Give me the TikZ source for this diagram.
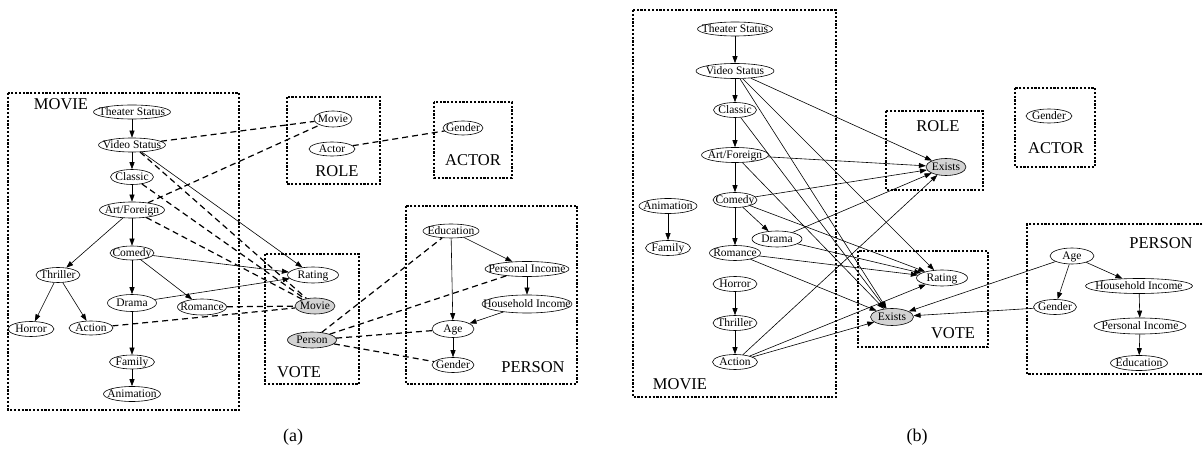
\documentclass[tikz,border=0pt]{standalone}
\usepackage{fontspec}
\setmainfont{Liberation Serif}
\usetikzlibrary{shapes.geometric,arrows.meta}
\definecolor{exgray}{RGB}{211,211,211}
% node text: zero-size box so the ellipse size comes from the style alone
\newcommand\nt[1]{\makebox[0pt]{\raisebox{-0.33em}[0pt][0pt]{#1}}}
\newcommand\nodefont{\fontsize{11.5}{13}\selectfont}
\begin{document}
\begin{tikzpicture}[x=1pt,y=-1pt,
  nd/.style 2 args={ellipse, draw, line width=0.6pt, inner sep=0pt,
    minimum width=#1pt, minimum height=#2pt, font=\nodefont},
  ndg/.style 2 args={nd={#1}{#2}, fill=exgray},
  ar/.style={-{Triangle[length=7pt,width=5pt]}, line width=0.6pt},
  dl/.style={line width=1.2pt, dash pattern=on 6pt off 4pt},
  plate/.style={line width=2.2pt, dash pattern=on 2.2pt off 1.6pt},
  platelabel/.style={font=\fontsize{16.5}{18}\selectfont, inner sep=0pt},
  caption/.style={font=\fontsize{18}{20}\selectfont, inner sep=0pt}]
\useasboundingbox (0,0) rectangle (1203,454);

% ================= (a) =================
% plates
\draw[plate] (8,93) rectangle (239,410);
\draw[plate] (287,97) rectangle (380,184);
\draw[plate] (434,102) rectangle (512,178);
\draw[plate] (265,254) rectangle (359,384);
\draw[plate] (406,206) rectangle (577,384);
\node[platelabel] (lma) at (61,104) {MOVIE};
\node[platelabel] (lro) at (337,171) {ROLE};
\node[platelabel] (lac) at (473,160) {ACTOR};
\node[platelabel] (lvo) at (299,372) {VOTE};
\node[platelabel] (lpe) at (533,367) {PERSON};

% MOVIE
\node[nd={77}{14}] (ts) at (132,112) {\nt{Theater Status}};
\node[nd={67}{14}] (vs) at (132,145) {\nt{Video Status}};
\node[nd={43}{15}] (cl) at (132,177) {\nt{Classic}};
\node[nd={65}{16}] (af) at (132,210) {\nt{Art/Foreign}};
\node[nd={44}{14}] (co) at (132,253) {\nt{Comedy}};
\node[nd={44}{15}] (th) at (58,275) {\nt{Thriller}};
\node[nd={49}{17}] (dr) at (132,303) {\nt{Drama}};
\node[nd={49}{16}] (ro) at (202,307) {\nt{Romance}};
\node[nd={46}{15}] (ho) at (31,329) {\nt{Horror}};
\node[nd={44}{14}] (ac) at (91,328) {\nt{Action}};
\node[nd={45}{14}] (fa) at (132,362) {\nt{Family}};
\node[nd={57}{15}] (an) at (132,394) {\nt{Animation}};
% ROLE
\node[nd={38}{16}] (rm) at (333,119) {\nt{Movie}};
\node[nd={46}{14}] (rac) at (332,149) {\nt{Actor}};
% ACTOR
\node[nd={40}{14}] (agd) at (463,128) {\nt{Gender}};
% VOTE
\node[nd={51}{16}] (vr) at (313,275) {\nt{Rating}};
\node[ndg={40}{16}] (vm) at (315,306) {\nt{Movie}};
\node[ndg={49}{16}] (vp) at (312,340) {\nt{Person}};
% PERSON
\node[nd={56}{14}] (ed) at (451,231) {\nt{Education}};
\node[nd={84}{15}] (pi) at (527,269) {\nt{Personal Income}};
\node[nd={90}{18}] (hi) at (527,304) {\nt{Household Income}};
\node[nd={42}{17}] (ag) at (453,329) {\nt{Age}};
\node[nd={42}{15}] (gp) at (453,365) {\nt{Gender}};

% directed edges
\draw[ar] (ts) -- (vs);
\draw[ar] (vs) -- (cl);
\draw[ar] (cl) -- (af);
\draw[ar] (af) -- (co);
\draw[ar] (af) -- (th);
\draw[ar] (co) -- (dr);
\draw[ar] (co) -- (ro);
\draw[ar] (th) -- (ho);
\draw[ar] (th) -- (ac);
\draw[ar] (dr) -- (fa);
\draw[ar] (fa) -- (an);
\draw[ar] (vs) -- (vr);
\draw[ar] (co) -- (vr);
\draw[ar] (dr) -- (vr);
\draw[ar] (ed) -- (pi);
\draw[ar] (ed) -- (ag);
\draw[ar] (pi) -- (hi);
\draw[ar] (hi) -- (ag);
\draw[ar] (ag) -- (gp);
% slot chains
\draw[dl] (vs) -- (rm);
\draw[dl] (af) -- (rm);
\draw[dl] (rac) -- (agd);
\draw[dl] (vs) -- (vm);
\draw[dl] (cl) -- (vm);
\draw[dl] (af) -- (vm);
\draw[dl] (ro) -- (vm);
\draw[dl] (ac) -- (vm);
\draw[dl] (vp) -- (ed);
\draw[dl] (vp) -- (pi);
\draw[dl] (vp) -- (ag);
\draw[dl] (vp) -- (gp);

\node[caption] (capa) at (293,437) {(a)};

% ================= (b) =================
\draw[plate] (633,10) rectangle (836,397);
\draw[plate] (886,111) rectangle (983,190);
\draw[plate] (1015,88) rectangle (1095,167);
\draw[plate] (858,251) rectangle (988,347);
\draw[plate] (1210,224) -- (1027,224) -- (1027,374) -- (1210,374);
\node[platelabel] (rma) at (680,384) {MOVIE};
\node[platelabel] (rro) at (938,126) {ROLE};
\node[platelabel] (rac2) at (1056,148) {ACTOR};
\node[platelabel] (rvo) at (953,333) {VOTE};
\node[platelabel] (rpe) at (1161,243) {PERSON};

% MOVIE
\node[nd={75}{14}] (ts2) at (735,29) {\nt{Theater Status}};
\node[nd={78}{15}] (vs2) at (735,71) {\nt{Video Status}};
\node[nd={43}{15}] (cl2) at (735,110) {\nt{Classic}};
\node[nd={67}{15}] (af2) at (735,155) {\nt{Art/Foreign}};
\node[nd={44}{15}] (co2) at (735,200) {\nt{Comedy}};
\node[nd={50}{16}] (dr2) at (777,239) {\nt{Drama}};
\node[nd={51}{15}] (ro2) at (735,253) {\nt{Romance}};
\node[nd={44}{15}] (ho2) at (735,284) {\nt{Horror}};
\node[nd={44}{15}] (th2) at (735,323) {\nt{Thriller}};
\node[nd={45}{15}] (ac2) at (735,362) {\nt{Action}};
\node[nd={58}{15}] (an2) at (668,206) {\nt{Animation}};
\node[nd={45}{15}] (fa2) at (668,248) {\nt{Family}};
% ROLE
\node[ndg={40}{17}] (ex1) at (946,167) {\nt{Exists}};
% ACTOR
\node[nd={46}{14}] (gea) at (1049,116) {\nt{Gender}};
% VOTE
\node[nd={51}{16}] (ra2) at (942,278) {\nt{Rating}};
\node[ndg={43}{17}] (ex2) at (892,317) {\nt{Exists}};
% PERSON
\node[nd={44}{16}] (ag2) at (1072,256) {\nt{Age}};
\node[nd={43}{15}] (ge2) at (1055,307) {\nt{Gender}};
\node[nd={107}{15}] (hi2) at (1139,286) {\nt{Household Income}};
\node[nd={92}{16}] (pi2) at (1140,326) {\nt{Personal Income}};
\node[nd={57}{15}] (ed2) at (1139,363) {\nt{Education}};

% edges inside MOVIE
\draw[ar] (ts2) -- (vs2);
\draw[ar] (vs2) -- (cl2);
\draw[ar] (cl2) -- (af2);
\draw[ar] (af2) -- (co2);
\draw[ar] (co2) -- (dr2);
\draw[ar] (co2) -- (ro2);
\draw[ar] (ho2) -- (th2);
\draw[ar] (th2) -- (ac2);
\draw[ar] (an2) -- (fa2);
% edges inside PERSON
\draw[ar] (ag2) -- (ge2);
\draw[ar] (ag2) -- (hi2);
\draw[ar] (hi2) -- (pi2);
\draw[ar] (pi2) -- (ed2);
% into ROLE.Exists
\draw[ar] (vs2) -- (ex1);
\draw[ar] (af2) -- (ex1);
\draw[ar] (co2) -- (ex1);
\draw[ar] (dr2) -- (ex1);
\draw[ar] (ac2) -- (ex1);
% into VOTE.Rating
\draw[ar] (vs2) -- (ra2);
\draw[ar] (co2) -- (ra2);
\draw[ar] (dr2) -- (ra2);
\draw[ar] (ro2) -- (ra2);
\draw[ar] (ac2) -- (ra2);
% into VOTE.Exists
\draw[ar] (vs2) -- (ex2);
\draw[ar] (cl2) -- (ex2);
\draw[ar] (af2) -- (ex2);
\draw[ar] (ro2) -- (ex2);
\draw[ar] (ac2) -- (ex2);
\draw[ar] (ag2) -- (ex2);
\draw[ar] (ge2) -- (ex2);

\node[caption] (capb) at (917,437) {(b)};
\end{tikzpicture}
\end{document}
